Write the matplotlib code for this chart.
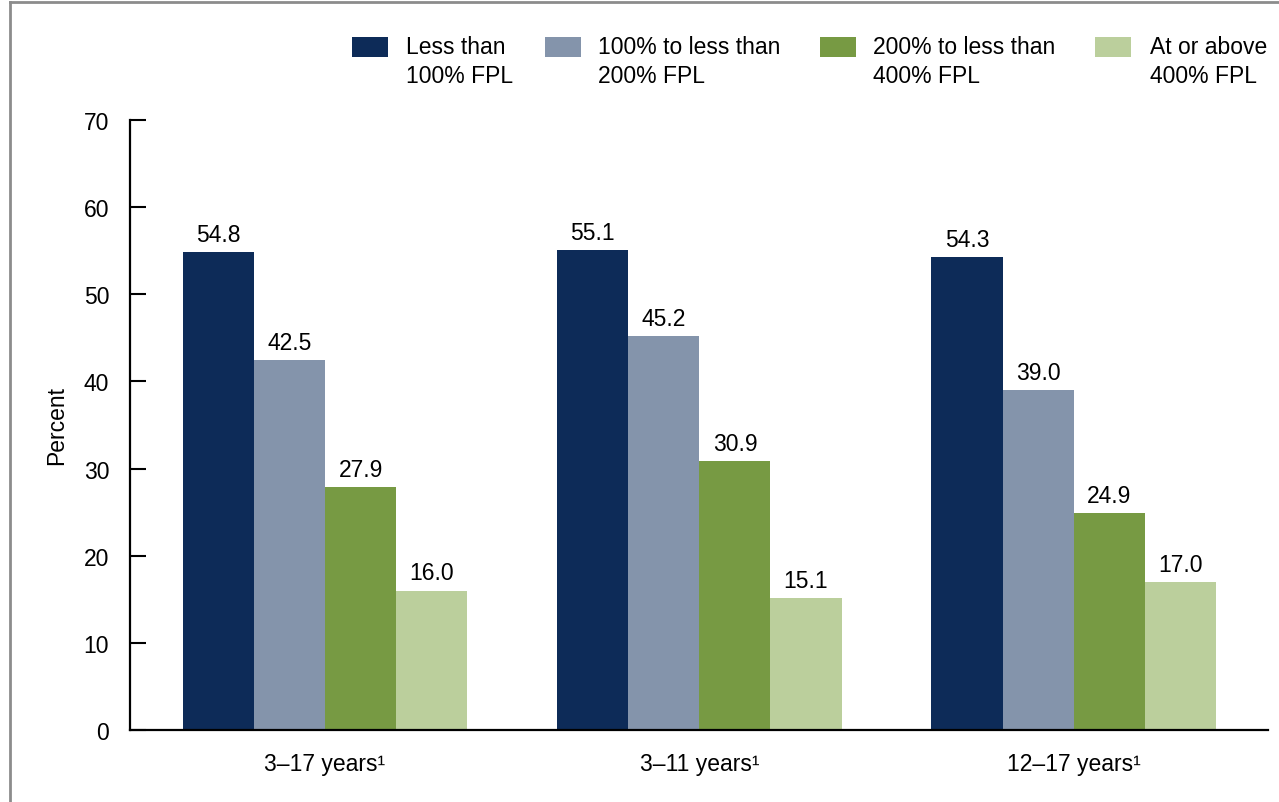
import matplotlib
matplotlib.use("Agg")
import matplotlib.pyplot as plt
import numpy as np
from matplotlib.patches import Rectangle
from matplotlib.lines import Line2D

plt.rcParams['font.family'] = ['Liberation Sans', 'DejaVu Sans']

categories = ["3\u201317 years\u00b9", "3\u201311 years\u00b9", "12\u201317 years\u00b9"]
series_labels = ["Less than\n100% FPL", "100% to less than\n200% FPL",
                 "200% to less than\n400% FPL", "At or above\n400% FPL"]
less_100 = [54.8, 55.1, 54.3]
from_100_to_200 = [42.5, 45.2, 39.0]
from_200_to_400 = [27.9, 30.9, 24.9]
above_400 = [16.0, 15.1, 17.0]
yticks = [0, 10, 20, 30, 40, 50, 60, 70]

series = [less_100, from_100_to_200, from_200_to_400, above_400]
colors = ["#0d2b58", "#8494ab", "#779a43", "#bbcf9c"]

W, H = 1279, 803
fig = plt.figure(figsize=(W / 100, H / 100), dpi=100)
ax = fig.add_axes([130 / W, 1 - 731 / H, (1268 - 130) / W, (731 - 121) / H])

x = np.arange(len(categories))
bw = 0.19
fs = 16.5
for i, (vals, c) in enumerate(zip(series, colors)):
    pos = x + (i - 1.5) * bw
    ax.bar(pos, vals, width=bw, color=c, edgecolor='none')
    for p, v in zip(pos, vals):
        ax.text(p, v + 0.7, f"{v:.1f}", ha='center', va='bottom', fontsize=fs, color='black')

ax.set_xlim(-0.521, 2.519)
ax.set_ylim(0, 70)
ax.set_yticks(yticks)
ax.set_yticklabels([str(t) for t in yticks], fontsize=fs)
ax.set_xticks(x)
ax.set_xticklabels(categories, fontsize=fs)
ax.tick_params(axis='x', length=0, pad=16)
ax.tick_params(axis='y', direction='in', length=11.5, width=1.5, pad=15)
for s in ['top', 'right']:
    ax.spines[s].set_visible(False)
for s in ['left', 'bottom']:
    ax.spines[s].set_linewidth(1.6)
ax.set_ylabel("Percent", fontsize=fs)
ax.yaxis.set_label_coords((68 - 130) / (1268 - 130), 0.5)

# legend
patch_x = [352, 545, 820, 1095]
text_x = [406, 598, 873, 1150]
for px, tx, lab, c in zip(patch_x, text_x, series_labels, colors):
    fig.add_artist(Rectangle((px / W, 1 - 58 / H), 36 / W, 20 / H, transform=fig.transFigure,
                             facecolor=c, edgecolor='none'))
    fig.text(tx / W, 1 - 36 / H, lab, ha='left', va='top', fontsize=fs, linespacing=1.35)

# frame
fig.add_artist(Line2D([10 / W, 10 / W], [0, 1 - 3 / H], transform=fig.transFigure, color='#8c8c8c', lw=2))
fig.add_artist(Line2D([10 / W, 1], [1 - 3 / H, 1 - 3 / H], transform=fig.transFigure, color='#8c8c8c', lw=2))

fig.savefig("out.png", dpi=100)
